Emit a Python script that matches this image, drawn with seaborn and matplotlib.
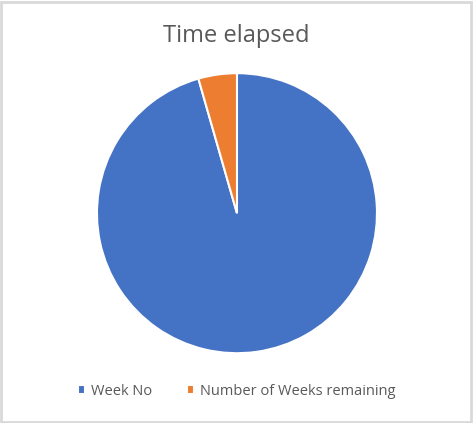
import matplotlib
matplotlib.use("Agg")
import matplotlib.pyplot as plt
import seaborn as sns
from matplotlib.patches import Rectangle

# chart data
labels = ["Week No", "Number of Weeks remaining"]
weeks = [43, 2]
colors = ["#4472C4", "#ED7D31"]

sns.set_theme(style="white")
plt.rcParams["font.family"] = ["Open Sans", "DejaVu Sans"]

fig = plt.figure(figsize=(4.73, 4.23), dpi=100)
ax = fig.add_axes([0.205, 0.165, 0.592, 0.662])

wedges, _ = ax.pie(weeks, colors=sns.color_palette(colors), startangle=90,
                   counterclock=False,
                   wedgeprops=dict(edgecolor="white", linewidth=1.5))
ax.set_xlim(-1, 1)
ax.set_ylim(-1, 1)
ax.set_aspect("equal")

fig.text(0.5, 0.915, "Time elapsed", ha="center", va="center",
         fontsize=17, color="#595959")

fig.legend(wedges, labels, loc="center", bbox_to_anchor=(0.5, 0.075),
           ncol=2, frameon=False, fontsize=10.5, labelcolor="#595959",
           handlelength=0.5, handleheight=0.5, handletextpad=0.4,
           columnspacing=2.4)

# light grey chart border
fig.patches.append(Rectangle((0.002, 0.002), 0.994, 0.994, transform=fig.transFigure,
                             fill=False, edgecolor="#d9d9d9", linewidth=2))

fig.savefig("out.png", dpi=100)
